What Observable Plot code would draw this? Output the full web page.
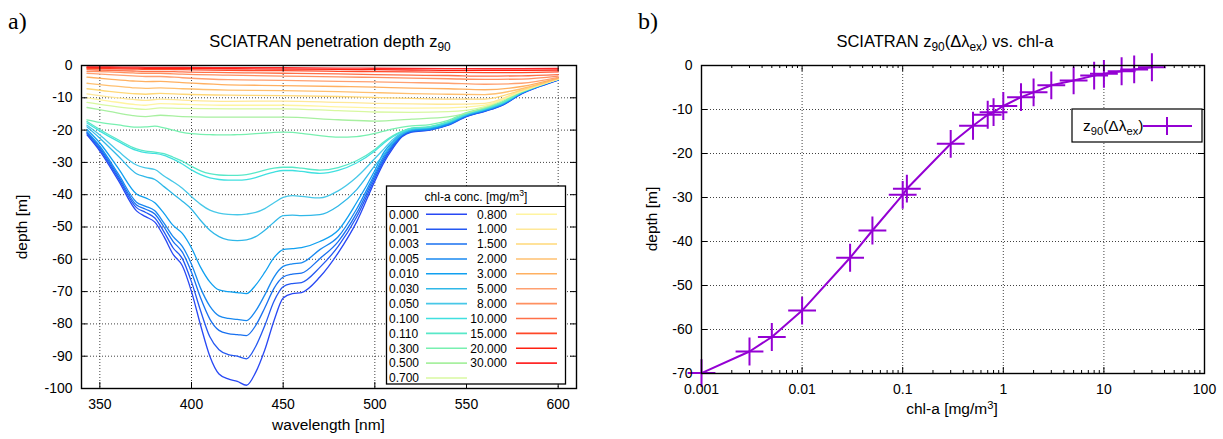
<!DOCTYPE html>
<html><head><meta charset="utf-8">
<script src="https://cdn.jsdelivr.net/npm/d3@7"></script>
<script src="https://cdn.jsdelivr.net/npm/@observablehq/plot@0.6"></script>
<style>
body{margin:0;background:#fff;}
#wrap{position:relative;width:1223px;height:439px;overflow:hidden;background:#fff;font-family:"Liberation Sans",Arial,sans-serif;}
#wrap svg{position:absolute;top:0;}
</style></head>
<body><div id="wrap"></div>
<script>
// ---------- panel a) data ----------
const wlDeep = [343,350,360,370,375,380,385,390,395,400,405,410,415,420,425,430,435,440,445,450,455,460,470,480,490,500,505,510,515,520,530,540,550,560,570,580,590,600];
const wlFlat = [343,355,368,375,383,395,420,450,480,500,520,540,560,580,600];

const concLabels = ["0.000","0.001","0.003","0.005","0.010","0.030","0.050","0.100","0.110","0.300","0.500","0.700","0.800","1.000","1.500","2.000","3.000","5.000","8.000","10.000","15.000","20.000","30.000"];
const concColors = ["#2848f4","#2458f2","#1870f0","#1888f0","#10a0f0","#30b8e8","#48c8e8","#40e0e0","#58e8c8","#78f0b0","#a8f0a0","#d8f8a0","#fff4a0","#ffe898","#ffd878","#ffc070","#ffb060","#ffa070","#ff9060","#ff7048","#ff4828","#ff2010","#ff2828"];

const z_0_000 = [-21.5,-26.5,-35.5,-45,-46.8,-48.5,-53,-58.5,-62,-70,-80.5,-90,-95.5,-97,-97.8,-99,-95,-88,-79,-72,-70.6,-70.3,-65.5,-58,-48.5,-35.8,-30,-25.5,-22,-20.6,-20,-18.5,-15.8,-14.2,-12.2,-8.8,-6.5,-4.5];
const z_0_001 = [-21,-26,-34.8,-44,-45.5,-47.2,-51.5,-56.5,-59.8,-67,-76,-84,-88,-89.5,-90,-90.8,-87,-80.5,-73,-68.5,-67.5,-67.2,-62.5,-56,-47,-35,-29.3,-25,-21.8,-20.5,-19.9,-18.4,-15.7,-14.1,-12.1,-8.7,-6.4,-4.5];
const z_0_003 = [-20.8,-25.5,-34.2,-43.2,-44.5,-46,-50,-54.5,-57.8,-64,-72,-78.5,-82,-83,-83.3,-83.6,-80.5,-75,-69,-65.5,-64.6,-64.3,-59.8,-54.5,-45.8,-34.2,-28.7,-24.6,-21.6,-20.4,-19.8,-18.3,-15.6,-14,-12,-8.6,-6.3,-4.4];
const z_0_005 = [-20.5,-25,-33.5,-42.3,-43.6,-45,-48.8,-53,-56,-61.5,-69,-74.5,-77.5,-78.3,-78.6,-79,-76,-71,-65.5,-62.2,-61.4,-61.1,-57,-53,-44.5,-33.5,-28,-24.2,-21.3,-20.2,-19.7,-18.2,-15.5,-13.9,-11.9,-8.5,-6.3,-4.4];
const z_0_010 = [-19.8,-24,-31.8,-39.8,-41,-42.5,-45.8,-49.5,-52,-56.5,-62.5,-67,-69.5,-70,-70.3,-70.6,-68,-64,-59.5,-57,-56.7,-56.4,-54.5,-51,-42.5,-32.5,-26.8,-23.5,-20.9,-20,-19.5,-18,-15.4,-13.8,-11.8,-8.5,-6.2,-4.3];
const z_0_030 = [-19,-22.5,-28,-33.5,-34.5,-35.3,-37.5,-39.8,-42,-44.5,-48,-51,-53,-54,-54.2,-54,-53,-51,-48.5,-46.5,-46.3,-46.5,-46.2,-43.5,-38.5,-31,-27.5,-23.8,-21.2,-19.9,-19.3,-17.8,-15.3,-13.7,-11.7,-8.4,-6.2,-4.3];
const z_0_050 = [-18.5,-21.5,-26.5,-30.8,-31.7,-32.2,-34.2,-36,-38,-40.6,-43,-44.8,-45.7,-46.1,-46.2,-46,-45.5,-44.3,-42.5,-40.8,-40.3,-40.5,-41,-38.8,-34.6,-28.8,-25.8,-22.8,-20.8,-19.6,-19.1,-17.6,-15.1,-13.5,-11.5,-8.3,-6.1,-4.2];
const z_0_100 = [-17.8,-20.3,-23.5,-26.3,-27,-27.2,-27.8,-29,-30.5,-32.3,-33.8,-34.8,-35.3,-35.5,-35.5,-35.3,-34.7,-33.8,-33,-32.5,-32.5,-32.8,-33.4,-32.5,-30.2,-26.5,-24,-22,-20.5,-19.5,-19,-17.5,-15,-13.4,-11.4,-8.3,-6.1,-4.2];
const z_0_110 = [-17.3,-19.8,-23,-25.8,-26.5,-26.8,-27.3,-28.4,-29.6,-31.2,-32.6,-33.5,-33.9,-34,-34,-33.8,-33.2,-32.4,-31.8,-31.5,-31.5,-31.8,-32.4,-31.6,-29.5,-26,-23.6,-21.7,-20.3,-19.4,-18.9,-17.4,-14.9,-13.3,-11.3,-8.2,-6,-4.2];
const z_0_300 = [-16.8,-17.6,-18.4,-19.1,-19,-18.8,-19.3,-20,-20.7,-21.1,-21.3,-21.4,-21.5,-21.5,-21.4,-21.3,-21.1,-20.9,-20.7,-20.6,-20.7,-21,-21.7,-22.2,-22,-21,-20.3,-19.6,-19.1,-18.7,-18.3,-17,-14.6,-13.1,-11.1,-8.1,-6,-4.1];
const z_0_500 = [-13,-14.2,-15.5,-15.8,-15.4,-15.8,-16,-16,-16.8,-17.2,-16.6,-15.9,-13,-8.1,-4.2];
const z_0_700 = [-11.4,-12.4,-13.3,-13.6,-13.1,-13.3,-13.4,-13.4,-14,-14.4,-14.5,-14.3,-12.7,-8,-4.2];
const z_0_800 = [-10,-11,-12,-12.3,-11.8,-12,-12.3,-12.3,-12.8,-13.1,-13.2,-13.1,-12.3,-7.9,-4.2];
const z_1_000 = [-8.8,-9.7,-10.5,-10.8,-10.4,-10.7,-11.1,-11,-11.4,-11.7,-11.9,-12,-11.7,-7.8,-4.2];
const z_1_500 = [-7.2,-8,-8.7,-8.9,-8.6,-8.9,-9.2,-9.3,-9.6,-9.9,-10.2,-10.4,-10.4,-7.6,-4.1];
const z_2_000 = [-5.5,-6.2,-6.9,-7.1,-6.9,-7.2,-7.6,-7.8,-8.1,-8.4,-8.7,-8.9,-9,-7.2,-4];
const z_3_000 = [-3.6,-4.2,-4.8,-5,-4.9,-5.3,-6,-6.2,-6.5,-6.7,-7,-7.2,-7.5,-6.5,-3.9];
const z_5_000 = [-2.4,-2.8,-3.2,-3.4,-3.4,-3.8,-4.4,-4.6,-4.9,-5.1,-5.3,-5.5,-5.8,-5.5,-3.7];
const z_8_000 = [-1.8,-2,-2.3,-2.4,-2.4,-2.7,-3,-3.3,-3.5,-3.7,-3.9,-4.1,-4.3,-4.2,-3.3];
const z_10_000 = [-1.3,-1.5,-1.7,-1.8,-1.8,-2,-2.2,-2.4,-2.6,-2.8,-3,-3.1,-3.3,-3.2,-2.8];
const z_15_000 = [-0.9,-1,-1.1,-1.2,-1.2,-1.3,-1.5,-1.6,-1.8,-1.9,-2,-2.1,-2.2,-2.2,-2];
const z_20_000 = [-0.6,-0.7,-0.8,-0.85,-0.85,-0.9,-1,-1.1,-1.2,-1.3,-1.4,-1.5,-1.5,-1.5,-1.4];
const z_30_000 = [-0.4,-0.45,-0.5,-0.55,-0.55,-0.6,-0.65,-0.7,-0.8,-0.85,-0.9,-0.95,-1,-1,-0.9];

const depthSeries = [z_0_000,z_0_001,z_0_003,z_0_005,z_0_010,z_0_030,z_0_050,z_0_100,z_0_110,z_0_300,
  z_0_500,z_0_700,z_0_800,z_1_000,z_1_500,z_2_000,z_3_000,z_5_000,z_8_000,z_10_000,z_15_000,z_20_000,z_30_000];

const wlTicks = [350,400,450,500,550,600];
const depthTicksA = [0,-10,-20,-30,-40,-50,-60,-70,-80,-90,-100];

// ---------- panel b) data ----------
const chl = [0.001,0.003,0.005,0.01,0.03,0.05,0.1,0.11,0.3,0.5,0.7,0.8,1,1.5,2,3,5,8,10,15,20,30];
const z90 = [-69.9,-65.0,-61.7,-55.7,-43.7,-37.5,-29.4,-28.0,-17.8,-13.7,-11.2,-10.6,-9.2,-7.2,-6.1,-4.5,-3.4,-2.3,-1.9,-1.3,-0.9,-0.4];
const chlTicks = [0.001,0.01,0.1,1,10,100];
const chlTickLabels = ["0.001","0.01","0.1","1","10","100"];
const depthTicksB = [0,-10,-20,-30,-40,-50,-60,-70];

// ---------- build ----------
const FONT = "Liberation Sans, Arial, Helvetica, sans-serif";
const wrap = document.getElementById("wrap");
const gridStyle = {stroke: "#000", strokeOpacity: 0.75, strokeWidth: 1, strokeDasharray: "1,2"};

const rowsA = [];
depthSeries.forEach((arr, k) => {
  const wl = k < 10 ? wlDeep : wlFlat;
  arr.forEach((d, i) => rowsA.push({conc: concLabels[k], wl: wl[i], depth: d}));
});

const A = {w: 620, h: 439, ml: 81, mr: 44, mt: 65, mb: 51};
const fwA = A.w - A.ml - A.mr, fhA = A.h - A.mt - A.mb;
const plotA = Plot.plot({
  width: A.w, height: A.h, marginLeft: A.ml, marginRight: A.mr, marginTop: A.mt, marginBottom: A.mb,
  style: {fontFamily: FONT, fontSize: "14px", color: "black", background: "transparent", overflow: "visible"},
  x: {domain: [340, 610], label: null},
  y: {domain: [-100, 0], label: null},
  color: {domain: concLabels, range: concColors},
  marks: [
    Plot.ruleX(wlTicks, gridStyle),
    Plot.ruleY(depthTicksA.filter(d => d !== 0 && d !== -100), gridStyle),
    Plot.line(rowsA, {x: "wl", y: "depth", z: "conc", stroke: "conc", strokeWidth: 1.3, curve: "monotone-x"}),
    Plot.ruleX(wlTicks, {insetTop: fhA - 6, stroke: "black"}),
    Plot.ruleX(wlTicks, {insetBottom: fhA - 6, stroke: "black"}),
    Plot.ruleY(depthTicksA, {insetRight: fwA - 6, stroke: "black"}),
    Plot.ruleY(depthTicksA, {insetLeft: fwA - 6, stroke: "black"}),
    Plot.frame({stroke: "black", strokeWidth: 1.4}),
    Plot.axisX({ticks: wlTicks, tickSize: 0, tickPadding: 11, label: null, tickFormat: d => String(d)}),
    Plot.axisY({ticks: depthTicksA, tickSize: 0, tickPadding: 9, label: null, tickFormat: d => String(d)})
  ]
});
plotA.style.left = "0px";
wrap.appendChild(plotA);

const rowsB = chl.map((c, i) => ({chl: c, z90: z90[i]}));
const B = {w: 603, h: 439, ml: 81, mr: 19, mt: 65, mb: 66};
const fwB = B.w - B.ml - B.mr, fhB = B.h - B.mt - B.mb;
const minorB = [];
[0.001, 0.01, 0.1, 1, 10].forEach(dec => [2,3,4,5,6,7,8,9].forEach(m => minorB.push(+(dec * m).toPrecision(3))));
const plotB = Plot.plot({
  width: B.w, height: B.h, marginLeft: B.ml, marginRight: B.mr, marginTop: B.mt, marginBottom: B.mb,
  style: {fontFamily: FONT, fontSize: "14px", color: "black", background: "transparent", overflow: "visible"},
  x: {type: "log", domain: [0.001, 100], label: null},
  y: {domain: [-70, 0], label: null},
  marks: [
    Plot.ruleX(chlTicks.slice(1, -1), gridStyle),
    Plot.ruleY(depthTicksB.filter(d => d !== 0 && d !== -70), gridStyle),
    Plot.line(rowsB, {x: "chl", y: "z90", stroke: "#9400d3", strokeWidth: 2}),
    Plot.dot(rowsB, {x: "chl", y: "z90", symbol: "plus", r: 9, stroke: "#9400d3", strokeWidth: 2}),
    Plot.ruleX(chlTicks, {insetTop: fhB - 6, stroke: "black"}),
    Plot.ruleX(chlTicks, {insetBottom: fhB - 6, stroke: "black"}),
    Plot.ruleX(minorB, {insetTop: fhB - 3, stroke: "black"}),
    Plot.ruleX(minorB, {insetBottom: fhB - 3, stroke: "black"}),
    Plot.ruleY(depthTicksB, {insetRight: fwB - 6, stroke: "black"}),
    Plot.ruleY(depthTicksB, {insetLeft: fwB - 6, stroke: "black"}),
    Plot.frame({stroke: "black", strokeWidth: 1.4}),
    Plot.axisX({ticks: chlTicks, tickSize: 0, tickPadding: 11, label: null, tickFormat: d => chlTickLabels[chlTicks.indexOf(d)] ?? String(d)}),
    Plot.axisY({ticks: depthTicksB, tickSize: 0, tickPadding: 9, label: null, tickFormat: d => String(d)})
  ]
});
plotB.style.left = "620px";
wrap.appendChild(plotB);

// ---------- overlay: titles, labels, legends ----------
const NS = "http://www.w3.org/2000/svg";
const ov = document.createElementNS(NS, "svg");
ov.setAttribute("width", 1223); ov.setAttribute("height", 439);
ov.style.left = "0px";
ov.setAttribute("font-family", FONT);
wrap.appendChild(ov);
function el(tag, attrs, parent = ov) {
  const e = document.createElementNS(NS, tag);
  for (const k in attrs) e.setAttribute(k, attrs[k]);
  parent.appendChild(e);
  return e;
}
function rich(x, y, parts, attrs = {}) {
  const t = el("text", Object.assign({x, y}, attrs));
  let shift = 0;
  parts.forEach(p => {
    const s = el("tspan", {}, t);
    const target = p.sub ? 4 : p.sup ? -5 : 0;
    if (target !== shift) { s.setAttribute("dy", target - shift); shift = target; }
    if (p.sub || p.sup) s.setAttribute("font-size", p.size || "0.72em");
    s.textContent = p.t;
  });
  return t;
}
// panel letters
el("text", {x: 8, y: 29, "font-family": "Liberation Serif, DejaVu Serif, serif", "font-size": 24}).textContent = "a)";
el("text", {x: 638, y: 29, "font-family": "Liberation Serif, DejaVu Serif, serif", "font-size": 24}).textContent = "b)";
// titles
rich(330, 47, [{t: "SCIATRAN penetration depth z"}, {t: "90", sub: true}], {"text-anchor": "middle", "font-size": 16.5});
rich(945, 47, [{t: "SCIATRAN z"}, {t: "90", sub: true}, {t: "(Δλ"}, {t: "ex", sub: true}, {t: ") vs. chl-a"}], {"text-anchor": "middle", "font-size": 16.5});
// axis labels
el("text", {x: 328.5, y: 430, "text-anchor": "middle", "font-size": 15.5}).textContent = "wavelength [nm]";
rich(952, 414, [{t: "chl-a [mg/m"}, {t: "3", sup: true}, {t: "]"}], {"text-anchor": "middle", "font-size": 15.5});
el("text", {x: 0, y: 0, "text-anchor": "middle", "font-size": 15.5, transform: "translate(27,227) rotate(-90)"}).textContent = "depth [m]";
el("text", {x: 0, y: 0, "text-anchor": "middle", "font-size": 15.5, transform: "translate(657,219) rotate(-90)"}).textContent = "depth [m]";

// legend a)
el("rect", {x: 386.5, y: 186, width: 179, height: 198, fill: "white", stroke: "black", "stroke-width": 1.3});
el("line", {x1: 386.5, x2: 565.5, y1: 206.5, y2: 206.5, stroke: "black", "stroke-width": 1});
rich(476, 201, [{t: "chl-a conc. [mg/m"}, {t: "3", sup: true}, {t: "]"}], {"text-anchor": "middle", "font-size": 12});
concLabels.forEach((lab, k) => {
  const col = k < 12 ? 0 : 1;
  const row = k < 12 ? k : k - 12;
  const yc = 214.3 + 14.88 * row;
  if (col === 0) {
    el("text", {x: 389, y: yc + 4.3, "font-size": 12}).textContent = lab;
    el("line", {x1: 426, x2: 467, y1: yc, y2: yc, stroke: concColors[k], "stroke-width": 1.6});
  } else {
    el("text", {x: 507, y: yc + 4.3, "font-size": 12, "text-anchor": "end"}).textContent = lab;
    el("line", {x1: 516, x2: 557, y1: yc, y2: yc, stroke: concColors[k], "stroke-width": 1.6});
  }
});

// legend b)
el("rect", {x: 1072, y: 109, width: 130, height: 33, fill: "white", stroke: "black", "stroke-width": 1.2});
rich(1083, 131, [{t: "z"}, {t: "90", sub: true}, {t: "(Δλ"}, {t: "ex", sub: true}, {t: ")"}], {"font-size": 15.5});
el("line", {x1: 1143, x2: 1192, y1: 126, y2: 126, stroke: "#9400d3", "stroke-width": 2});
el("line", {x1: 1158, x2: 1176, y1: 126, y2: 126, stroke: "#9400d3", "stroke-width": 2});
el("line", {x1: 1167, x2: 1167, y1: 117, y2: 135, stroke: "#9400d3", "stroke-width": 2});
</script>
</body></html>
